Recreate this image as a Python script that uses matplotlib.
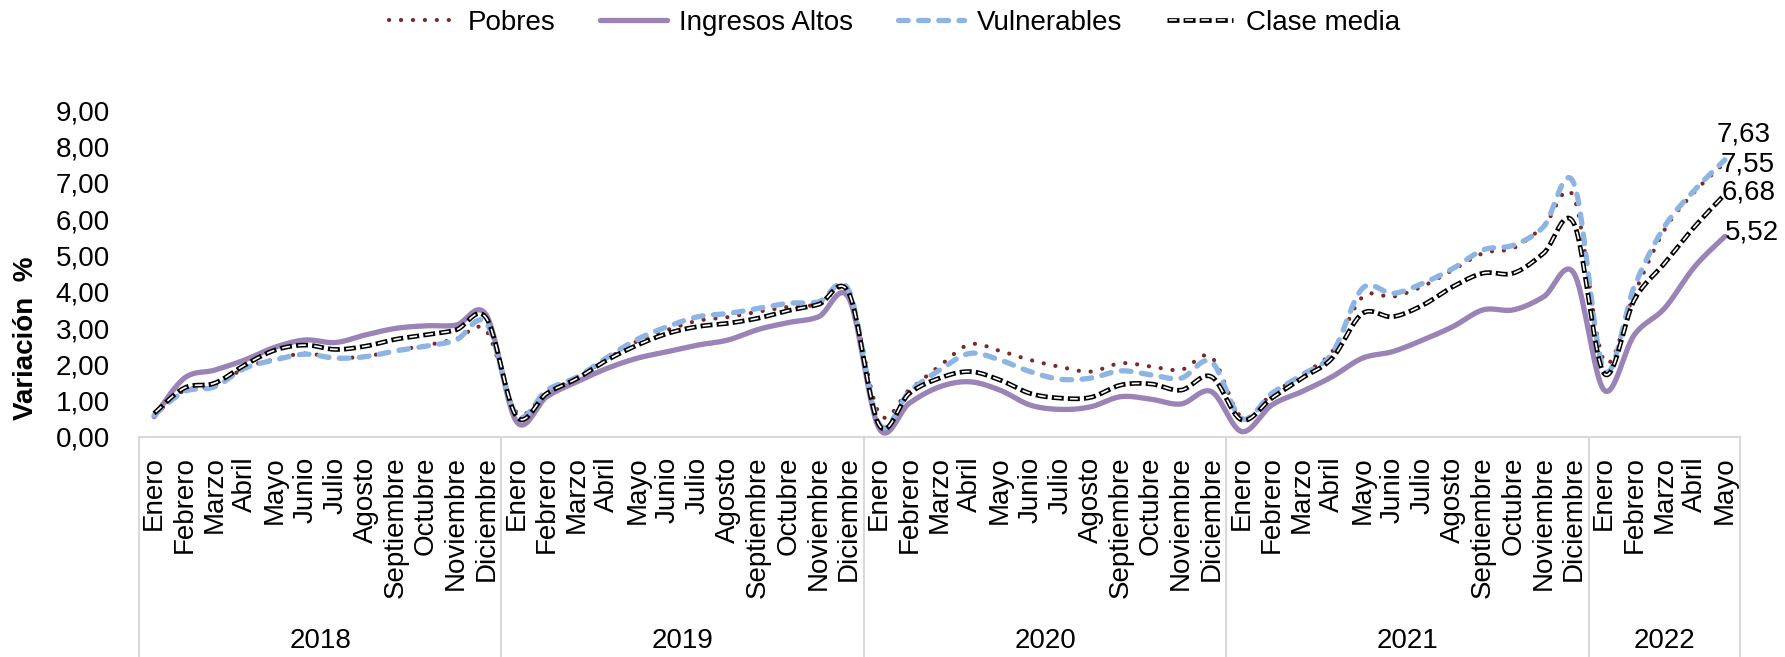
import numpy as np
import matplotlib
matplotlib.use("Agg")
import matplotlib.pyplot as plt
from matplotlib.lines import Line2D
from matplotlib.legend_handler import HandlerTuple
import matplotlib.transforms as mtransforms

plt.rcParams["font.family"] = ["Liberation Sans", "DejaVu Sans"]
plt.rcParams["lines.scale_dashes"] = False

# ---- data ----
meses_anio = ["Enero", "Febrero", "Marzo", "Abril", "Mayo", "Junio", "Julio",
              "Agosto", "Septiembre", "Octubre", "Noviembre", "Diciembre"]
anios = ["2018", "2019", "2020", "2021", "2022"]
meses_por_anio = [12, 12, 12, 12, 5]
meses = [m for n in meses_por_anio for m in meses_anio[:n]]

pobres = [0.60, 1.28, 1.40, 1.90, 2.14, 2.30, 2.18, 2.22, 2.38, 2.52, 2.70, 2.92,
          0.68, 1.22, 1.62, 2.15, 2.64, 2.95, 3.20, 3.30, 3.45, 3.58, 3.65, 3.95,
          0.65, 1.30, 1.95, 2.55, 2.37, 2.12, 1.93, 1.80, 2.03, 1.94, 1.85, 2.20,
          0.55, 1.18, 1.72, 2.35, 3.85, 3.86, 4.15, 4.60, 5.06, 5.20, 5.80, 6.60,
          2.10, 3.95, 5.70, 6.75, 7.55]
ingresos_altos = [0.56, 1.62, 1.84, 2.12, 2.47, 2.67, 2.60, 2.81, 2.99, 3.06, 3.08, 3.35,
                  0.42, 1.11, 1.52, 1.89, 2.17, 2.35, 2.53, 2.67, 2.96, 3.15, 3.31, 3.82,
                  0.24, 0.93, 1.38, 1.52, 1.29, 0.88, 0.76, 0.83, 1.11, 1.04, 0.91, 1.25,
                  0.15, 0.88, 1.25, 1.66, 2.17, 2.35, 2.67, 3.04, 3.50, 3.50, 3.86, 4.51,
                  1.29, 2.81, 3.54, 4.69, 5.52]
vulnerables = [0.60, 1.25, 1.38, 1.89, 2.12, 2.28, 2.17, 2.21, 2.37, 2.50, 2.67, 3.13,
               0.60, 1.29, 1.65, 2.19, 2.69, 3.04, 3.31, 3.40, 3.54, 3.68, 3.72, 4.03,
               0.37, 1.25, 1.84, 2.30, 2.12, 1.80, 1.59, 1.62, 1.82, 1.71, 1.62, 2.07,
               0.51, 1.20, 1.71, 2.30, 4.09, 3.95, 4.23, 4.64, 5.15, 5.28, 5.79, 6.98,
               1.84, 4.14, 5.79, 6.80, 7.63]
clase_media = [0.65, 1.35, 1.48, 1.98, 2.39, 2.53, 2.41, 2.50, 2.69, 2.81, 2.95, 3.27,
               0.56, 1.20, 1.61, 2.12, 2.53, 2.85, 3.04, 3.13, 3.27, 3.48, 3.65, 3.96,
               0.33, 1.20, 1.62, 1.80, 1.57, 1.20, 1.07, 1.09, 1.43, 1.46, 1.29, 1.66,
               0.47, 1.07, 1.62, 2.17, 3.40, 3.31, 3.63, 4.14, 4.51, 4.51, 5.06, 5.88,
               1.75, 3.77, 4.78, 5.79, 6.68]

C_POBRES = "#7A2A2A"
C_ALTOS = "#9A83B6"
C_VULN = "#8DB4E2"


def suavizar(y, n=24):
    """Smoothed path through the points using cubic Bezier segments."""
    y = np.asarray(y, dtype=float)
    x = np.arange(len(y), dtype=float)
    p = np.column_stack([x, y])
    ext = np.vstack([p[0], p, p[-1]])
    xs, ys = [], []
    t = np.linspace(0, 1, n, endpoint=False)[:, None]
    for i in range(len(p) - 1):
        p0, p3 = p[i], p[i + 1]
        c1 = p0 + (ext[i + 2] - ext[i]) / 6.0
        c2 = p3 - (ext[i + 3] - ext[i + 1]) / 6.0
        seg = ((1 - t) ** 3) * p0 + 3 * ((1 - t) ** 2) * t * c1 + 3 * (1 - t) * t ** 2 * c2 + t ** 3 * p3
        xs.append(seg[:, 0]); ys.append(seg[:, 1])
    xs.append([p[-1, 0]]); ys.append([p[-1, 1]])
    return np.concatenate(xs), np.concatenate(ys)


fig = plt.figure(figsize=(17.85, 6.57), dpi=100)
ax = fig.add_axes([139 / 1785, 1 - 437 / 657, (1740 - 139) / 1785, (437 - 110) / 657])

dot_style = dict(color=C_POBRES, lw=3.0, linestyle=(0, (0.1, 8.5)), dash_capstyle="round")
altos_style = dict(color=C_ALTOS, lw=3.8, solid_capstyle="round")
vuln_style = dict(color=C_VULN, lw=3.8, linestyle=(0, (7.0, 7.5)), dash_capstyle="round")
media_out = dict(color="black", lw=3.4, linestyle=(0, (8.6, 3.0)), dash_capstyle="butt")
media_in = dict(color="white", lw=1.2, linestyle=(10.1, (5.6, 6.0)), dash_capstyle="butt")

xs, ys = suavizar(pobres)
ax.plot(xs, ys, zorder=2, **dot_style)
xs, ys = suavizar(ingresos_altos)
ax.plot(xs, ys, zorder=3, **altos_style)
xs, ys = suavizar(vulnerables)
ax.plot(xs, ys, zorder=4, **vuln_style)
xs, ys = suavizar(clase_media)
ax.plot(xs, ys, zorder=5, **media_out)
ax.plot(xs, ys, zorder=6, **media_in)

# end-of-series value labels
n = len(meses) - 1
etiquetas = [(vulnerables[-1], -6, 18), (pobres[-1], -3, -1.5),
             (clase_media[-1], -2, 1.5), (ingresos_altos[-1], 0, 2.5)]
for val, dx, dy in etiquetas:
    ax.annotate(f"{val:.2f}".replace(".", ","), xy=(n, val), xytext=(dx, dy),
                textcoords="offset points", ha="left", va="center",
                fontsize=20, color="black", annotation_clip=False, zorder=7)

ax.set_xlim(-0.5, len(meses) - 0.5)
ax.set_ylim(0, 9)
ax.set_yticks(np.arange(0, 10, 1))
ax.set_yticklabels([f"{v:.2f}".replace(".", ",") for v in np.arange(0, 10, 1)])
ax.set_xticks(np.arange(len(meses)))
ax.set_xticklabels(meses, rotation=90, ha="center", va="top")
ax.tick_params(axis="y", length=0, pad=21, labelsize=20)
ax.tick_params(axis="x", length=0, pad=14, labelsize=20)

for s in ("top", "right", "left"):
    ax.spines[s].set_visible(False)
ax.spines["bottom"].set_color("#D9D9D9")
ax.spines["bottom"].set_linewidth(1.5)

# year grouping below the month labels
trans = mtransforms.blended_transform_factory(ax.transData, ax.transAxes)
bottom = -(657 - 437) / 327
bordes = np.concatenate([[0], np.cumsum(meses_por_anio)]) - 0.5
for b in bordes:
    ax.plot([b, b], [0, bottom], color="#D9D9D9", lw=1.5, transform=trans, clip_on=False)
for i, anio in enumerate(anios):
    ax.text((bordes[i] + bordes[i + 1]) / 2, -(641 - 437) / 327, anio,
            transform=trans, ha="center", va="center", fontsize=20)

fig.text(26 / 1785, 1 - 338 / 657, "Variación  %", rotation=90, ha="center", va="center",
         fontsize=20, fontweight="bold")

handles = [
    Line2D([], [], **dot_style),
    Line2D([], [], **altos_style),
    Line2D([], [], **vuln_style),
    (Line2D([], [], **media_out), Line2D([], [], **media_in)),
]
fig.legend(handles, ["Pobres", "Ingresos Altos", "Vulnerables", "Clase media"],
           loc="center", bbox_to_anchor=(0.501, 1 - 23 / 657), ncol=4, frameon=False,
           fontsize=20, handlelength=2.4, handletextpad=0.45, columnspacing=1.6,
           handler_map={tuple: HandlerTuple(ndivide=1)})

fig.savefig("out.png", dpi=100)
